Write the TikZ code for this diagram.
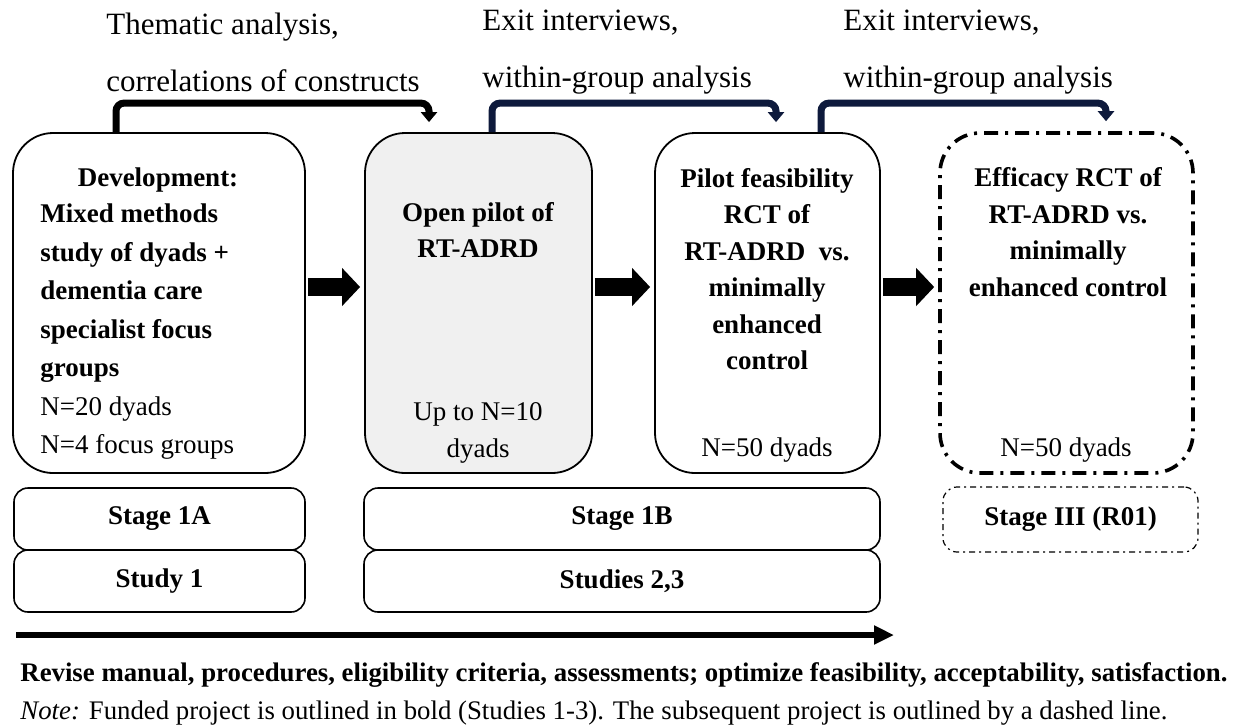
\documentclass[tikz,border=0pt]{standalone}
\usepackage{fontspec}
\setmainfont{Liberation Serif}
\usetikzlibrary{arrows.meta}
\definecolor{navyline}{RGB}{14,26,60}
\definecolor{pilotgray}{RGB}{240,240,240}

\begin{document}
\begin{tikzpicture}[
  x=0.5pt, y=-0.5pt,
  bigbox/.style={
    draw, line width=0.9pt, rounded corners=20pt,
    inner sep=0pt, minimum height=170pt
  },
  stagebox/.style={
    draw, line width=0.8pt, rounded corners=7pt, inner sep=0pt,
    minimum height=31pt, font=\fontsize{13.5}{16}\selectfont\bfseries
  },
  boxtext/.style={inner sep=0pt, align=center, font=\fontsize{13.5}{18.25}\selectfont},
  boldtext/.style={boxtext, font=\fontsize{13.5}{18.25}\selectfont\bfseries},
  hdr/.style={inner sep=0pt, align=left, anchor=west, font=\fontsize{15.5}{28.5}\selectfont},
  bracket/.style={line width=3.5pt, rounded corners=4pt, -{Triangle[width=8pt,length=5pt]}},
  blockarrow/.style={
    line width=9pt, -{Triangle[width=18.5pt,length=9pt]},
    shorten <=1pt, shorten >=2pt
  }
]
  \useasboundingbox (0,0) rectangle (1234,725);

  % Study boxes
  \node[bigbox, minimum width=146pt] (dev) at (159,303) {};
  \node[bigbox, minimum width=113.5pt, fill=pilotgray] (pilot) at (478.5,303) {};
  \node[bigbox, minimum width=112.5pt] (feas) at (767.5,303) {};
  \node[bigbox, minimum width=126.5pt, line width=1.8pt,
        dash pattern=on 7pt off 3.5pt on 1.5pt off 3.5pt] (eff) at (1066.5,303) {};

  % Box texts
  \node[boldtext] (devhead) at (158,180) {Development:};
  \node[boxtext, align=left, anchor=west, font=\fontsize{13.5}{19.25}\selectfont] (devbody) at (40,332)
    {\textbf{Mixed methods}\\ \textbf{study of dyads +}\\ \textbf{dementia care}\\
     \textbf{specialist focus}\\ \textbf{groups}\\ N=20 dyads\\ N=4 focus groups};
  \node[boldtext] (pilottop) at (478,230) {Open pilot of\\ RT-ADRD};
  \node[boxtext] (pilotn) at (478,433) {Up to N=10\\ dyads};
  \node[boldtext] (feastop) at (767,269) {Pilot feasibility\\ RCT of\\ RT-ADRD~~vs.\\ minimally\\ enhanced\\ control};
  \node[boxtext] (feasn) at (767,450) {N=50 dyads};
  \node[boldtext] (efftop) at (1068,232) {Efficacy RCT of\\ RT-ADRD vs.\\ minimally\\ enhanced control};
  \node[boxtext] (effn) at (1066,450) {N=50 dyads};

  % Stage and study rows
  \node[stagebox, minimum width=145.5pt] (st1a) at (159.5,519) {Stage 1A};
  \node[stagebox, minimum width=145.5pt] (sy1) at (159.5,581) {Study 1};
  \node[stagebox, minimum width=258pt] (st1b) at (622,519) {Stage 1B};
  \node[stagebox, minimum width=258pt] (sy23) at (622,581) {Studies 2,3};
  \node[stagebox, minimum width=127.5pt, minimum height=32.5pt, line width=0.6pt,
        dash pattern=on 3pt off 2pt on 1pt off 2pt] (st3) at (1070.5,519.5) {Stage III (R01)};

  % Analysis labels
  \node[hdr] (thema) at (106,52.5) {Thematic analysis,\\ correlations of constructs};
  \node[hdr] (exit1) at (482,52.5) {Exit interviews,\\ within-group analysis};
  \node[hdr] (exit2) at (843,52.5) {Exit interviews,\\ within-group analysis};

  % Brackets over the boxes
  \draw[bracket] ([xshift=-21.5pt]dev.north) -- ++(0,-29)
    -| ([xshift=-24.75pt,yshift=5pt]pilot.north);
  \draw[bracket, navyline] ([xshift=6.75pt]pilot.north) -- ++(0,-29)
    -| ([xshift=4.25pt,yshift=5pt]feas.north);
  \draw[bracket, navyline] ([xshift=26.75pt]feas.north) -- ++(0,-29)
    -| ([xshift=19.75pt,yshift=5pt]eff.north);

  % Block arrows
  \draw[blockarrow] ([yshift=8pt]dev.east) -- ([yshift=8pt]pilot.west);
  \draw[blockarrow] ([yshift=8pt]pilot.east) -- ([yshift=8pt]feas.west);
  \draw[blockarrow] ([yshift=8pt]feas.east) -- ([yshift=8pt]eff.west);

  % Revision arrow and notes
  \coordinate (revstart) at (16,635);
  \coordinate (revend) at (894,635);
  \draw[line width=3pt, -{Triangle[width=9pt,length=10pt]}] (revstart) -- (revend);

  \node[inner sep=0pt, anchor=west, font=\fontsize{13.4}{16}\selectfont\bfseries] (revise) at (20,675)
    {Revise manual, procedures, eligibility criteria, assessments; optimize feasibility, acceptability, satisfaction.};
  \node[inner sep=0pt, anchor=west, font=\fontsize{13.4}{16}\selectfont] (note) at (20,713)
    {\textit{Note:} Funded project is outlined in bold (Studies 1-3). The subsequent project is outlined by a dashed line.};
\end{tikzpicture}
\end{document}
